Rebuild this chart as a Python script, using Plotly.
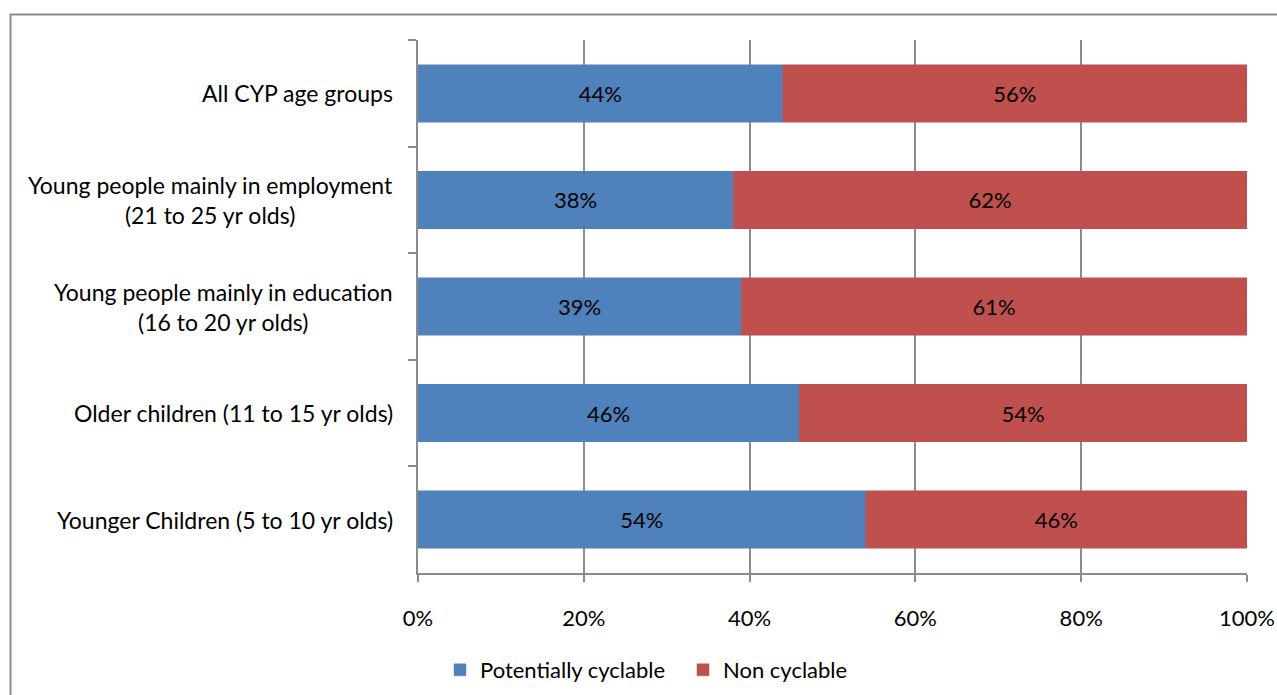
import plotly.graph_objects as go

categories = [
    "All CYP age groups",
    "Young people mainly in employment<br>(21 to 25 yr olds)",
    "Young people mainly in education<br>(16 to 20 yr olds)",
    "Older children (11 to 15 yr olds)",
    "Younger Children (5 to 10 yr olds)",
]
potentially_cyclable = [44, 38, 39, 46, 54]
non_cyclable = [56, 62, 61, 54, 46]
x_ticks = [0, 20, 40, 60, 80, 100]
x_tick_labels = ["0%", "20%", "40%", "60%", "80%", "100%"]

FONT = "Lato"
FS = 22
GREY = "#8c8c8c"

fig = go.Figure()
fig.add_trace(go.Bar(
    y=categories, x=potentially_cyclable, orientation="h",
    name="Potentially cyclable", marker=dict(color="#4F81BD", line=dict(color="#4F81BD", width=0.5)),
    text=[f"{v}%" for v in potentially_cyclable], textposition="inside",
    insidetextanchor="middle", textfont=dict(color="black", size=FS, family=FONT),
    hoverinfo="skip",
))
fig.add_trace(go.Bar(
    y=categories, x=non_cyclable, orientation="h",
    name="Non cyclable", marker=dict(color="#C0504D", line=dict(color="#C0504D", width=0.5)),
    text=[f"{v}%" for v in non_cyclable], textposition="inside",
    insidetextanchor="middle", textfont=dict(color="black", size=FS, family=FONT),
    hoverinfo="skip",
))

# category labels: right-aligned block, lines centred within it
for c in categories:
    fig.add_annotation(
        x=-0.028, xref="paper", y=c, yref="y", text=c, showarrow=False,
        xanchor="right", align="center", font=dict(size=23, family=FONT, color="black"),
    )

# outer chart frame
W, H = 1277, 695
L, R, T, B = 418, 30, 40, 122
pw, ph = W - L - R, H - T - B
def px(xp):
    return (xp - L) / pw
def py(yp):
    return (H - B - yp) / ph
fig.add_shape(type="rect", xref="paper", yref="paper",
              x0=px(10.5), x1=px(1300), y0=py(14.5), y1=py(720),
              line=dict(color="#8a8a8a", width=2), layer="below")

fig.update_layout(
    width=W, height=H,
    margin=dict(l=L, r=R, t=T, b=B, autoexpand=False),
    barmode="stack", bargap=0.46,
    paper_bgcolor="white", plot_bgcolor="white",
    font=dict(family=FONT, size=FS, color="black"),
    showlegend=True,
    legend=dict(orientation="h", x=px(440), xanchor="left", y=py(670), yanchor="middle",
                font=dict(size=FS, family=FONT), traceorder="normal",
                itemwidth=30, entrywidth=198),
    xaxis=dict(range=[0, 100], tickvals=x_ticks, ticktext=x_tick_labels,
               showgrid=True, gridcolor=GREY, gridwidth=1.5,
               showline=True, linecolor=GREY, linewidth=2,
               ticks="outside", ticklen=7, tickcolor=GREY, tickwidth=2,
               ticklabelstandoff=18, automargin=False,
               zeroline=False, tickfont=dict(size=FS, family=FONT)),
    yaxis=dict(categoryorder="array", categoryarray=categories, autorange="reversed",
               showticklabels=False, tickson="boundaries", ticks="outside",
               ticklen=8, tickcolor=GREY, tickwidth=2, automargin=False,
               showline=True, linecolor=GREY, linewidth=2, showgrid=False),
)

fig.write_html("out.html")
